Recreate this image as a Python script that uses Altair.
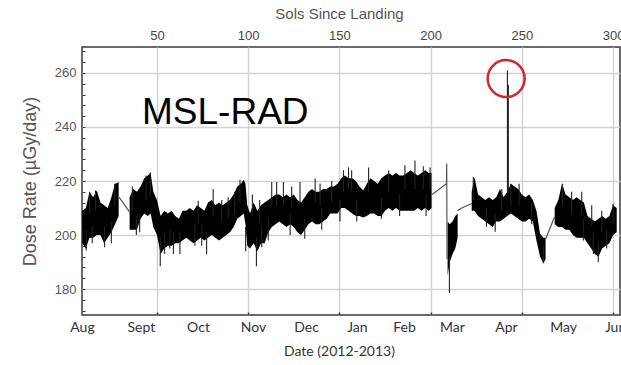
import altair as alt
import pandas as pd

# ---- dose-rate envelope, per continuous stretch of data (sol, low, high) ----
seg_a_sol = [9, 11, 13, 15, 17, 19, 21, 23, 25, 27, 29]
seg_a_lo = [197, 195, 199, 199, 200, 200, 197, 199, 201, 204, 207]
seg_a_hi = [209, 210, 216, 214, 216.5, 212, 211, 210, 214, 219, 219.5]

seg_b_sol = [35, 37, 39, 41, 43, 45, 46.5, 48, 50, 52, 54, 56, 58, 60, 62, 64, 66, 68,
             70, 72, 74, 76, 78, 80, 82, 84, 86, 88, 90, 92, 94, 96, 97.5, 98.5, 99.5,
             101, 103, 105, 107, 109, 111, 113, 115, 117, 119, 121, 123, 125, 127, 129,
             131, 133, 135, 137, 139, 141, 143, 145, 147, 149, 151, 153, 155, 157, 159,
             161, 163, 165, 167, 169, 171, 173, 175, 177, 179, 181, 183, 185, 187, 189,
             191, 193, 195, 197, 199, 200.5]
seg_b_lo = [202, 202, 202, 206, 208, 207, 208, 203, 200, 193, 195, 196, 196, 197, 197, 198,
            199, 198, 197, 198, 199, 198, 199, 200, 199, 198, 199, 200, 201, 203, 206, 207,
            208, 204, 196, 195, 197, 194, 197, 197, 201, 203, 204, 205, 204, 203, 204, 203,
            201, 200, 202, 204, 205, 204, 204, 205, 206, 208, 208, 208, 210, 210, 209, 208,
            207, 207, 206.5, 207, 208, 208, 207, 207, 209, 210, 209, 210, 209, 209, 209,
            209, 209, 210, 209, 210, 209, 210]
seg_b_hi = [214, 217, 216, 218, 221, 222, 223, 216, 213, 207, 209, 208, 209, 207, 206, 209,
            209, 210, 209, 211, 210, 209, 212, 213, 211, 212, 211, 212, 213, 215, 218, 219,
            220.5, 219, 211, 208, 212, 209, 211, 212, 213, 214, 215, 215, 214, 215, 214, 215,
            213, 212, 214, 216, 217, 216, 216, 217, 217, 218, 218, 219, 221, 222, 221, 221,
            220, 218, 216.5, 219, 221, 220, 219, 221, 222, 223, 222, 223, 222, 222, 223, 224,
            223, 222, 223, 224, 223, 223]

seg_c_sol = [209.3, 210.5, 212, 213.5, 214.8]
seg_c_lo = [185, 190, 193, 195, 199]
seg_c_hi = [205, 204, 205, 207, 208]

seg_d_sol = [222.5, 224, 226, 228, 230, 232, 234, 236, 238, 240, 242, 244, 246, 248, 250,
             252, 254, 256, 258, 260, 261.8, 263]
seg_d_lo = [209, 209, 207, 206, 205, 204, 203, 205, 205, 206, 207, 208, 207, 206, 205, 205,
            206, 205, 198, 192, 189.6, 191]
seg_d_hi = [216, 221.5, 215, 214, 213, 214, 213, 214, 217, 214, 216, 219, 218, 217, 215, 214,
            215, 213, 209, 200.5, 199, 199]

seg_e_sol = [268, 270, 272, 274, 276, 278, 280, 282, 284, 286, 288, 290, 292, 294, 296, 298,
             300, 302]
seg_e_lo = [204, 203, 203, 202, 202, 200, 199, 199, 199, 197, 195, 193, 192, 195, 196, 197,
            200, 201]
seg_e_hi = [210, 213, 219, 215, 214, 213, 214, 213, 212, 207, 206, 205, 206, 207, 206, 207,
            211, 210]

# ---- isolated readings that stick out of the band (sol, low, high) ----
spike_sol = [11.2, 13.1, 14.5, 16.3, 21.3, 25.0, 26.8, 36.5, 38.7, 40.5, 44.0, 46.3,
             51.8, 54.2, 57.0, 59.0, 62.6, 70.8, 72.6, 74.5, 77.2, 80.8, 85.5, 89.0,
             92.6, 95.5, 98.6, 102.3, 104.5, 106.3, 107.4, 111.0, 112.9, 115.6, 119.3,
             123.0, 123.8, 128.4, 131.0, 136.7, 139.4, 140.3, 145.8, 150.3, 152.2, 155.0,
             156.7, 159.5, 166.0, 173.0, 177.0, 183.0, 185.9, 191.4, 196.0, 197.5, 199.7,
             210.3, 223.4, 230.6, 235.4, 239.0, 242.1, 242.6, 244.0, 248.5, 255.4, 261.8,
             272.3, 277.3, 282.8, 283.7, 288.3, 289.2, 291.9, 293.8, 296.5, 300.0]
spike_lo = [194.3, 208, 197, 209, 195.5, 197, 211, 209, 200, 201, 213, 214,
            188.4, 193, 195, 193, 193, 196, 204, 196, 193, 207, 205, 206,
            208, 212, 194, 207, 188.4, 205, 195.5, 198, 211, 211, 211,
            200, 210, 211, 198.6, 212, 211, 202, 212, 205, 216, 217,
            216, 205, 216, 206, 216, 207, 217, 217, 217, 207, 217,
            178.5, 213, 203, 201.2, 209, 216, 216, 211, 211, 204, 189.6,
            211, 208, 208, 198, 203, 193, 190, 201, 195, 204]
spike_hi = [202, 216, 203, 216.5, 203, 205, 219, 218, 207, 208, 222, 223.2,
            199, 201, 202, 201, 201, 204, 212.7, 204, 201, 217, 213, 214,
            216, 220.5, 203, 215, 199, 213, 203, 206, 219.6, 219.6, 219.6,
            208, 218, 219.6, 206, 220.9, 219, 210, 220, 213, 224, 225,
            224, 213, 225, 214, 224, 215, 225.8, 227.6, 225.5, 215, 225,
            192, 221.5, 210, 208, 217, 260.9, 255.6, 219, 219, 212, 196,
            219, 216, 216, 206, 211, 201, 198, 209, 202, 211.6]

# ---- thin traces bridging the data gaps ----
gap_group = [1, 1, 2, 2, 2, 2, 3, 3, 3, 4, 4]
gap_sol = [29.2, 35.0, 200.8, 208.7, 208.8, 209.0, 214.8, 216.5, 222.5, 262.7, 267.9]
gap_val = [214, 208.5, 215, 219, 226.5, 191, 209, 209.8, 211.7, 198, 206.7]

# ---- axis labelling ----
sol_ticks = [50, 100, 150, 200, 250, 300]
dose_ticks = [180, 200, 220, 240, 260]
dose_minor = [172, 176, 180, 184, 188, 192, 196, 200, 204, 208, 212, 216, 220, 224, 228,
              232, 236, 240, 244, 248, 252, 256, 260, 264, 268]
month_names = ["Aug", "Sept", "Oct", "Nov", "Dec", "Jan", "Feb", "Mar", "Apr", "May", "Jun"]
month_sol = [8.9, 41.2, 72.5, 102.6, 131.7, 159.6, 185.4, 211.7, 241.3, 272.6, 301.1]

# ---- annotations ----
label_text = ["MSL-RAD"]
label_sol = [41.8]
label_val = [245]
ring_sol = [241.4]
ring_val = [257.9]

rows = []
for seg, (s, lo, hi) in enumerate([(seg_a_sol, seg_a_lo, seg_a_hi), (seg_b_sol, seg_b_lo, seg_b_hi),
                                   (seg_c_sol, seg_c_lo, seg_c_hi), (seg_d_sol, seg_d_lo, seg_d_hi),
                                   (seg_e_sol, seg_e_lo, seg_e_hi)]):
    for a, b, c in zip(s, lo, hi):
        rows.append({"seg": seg, "sol": a, "lo": b, "hi": c})
band_df = pd.DataFrame(rows)
spike_df = pd.DataFrame({"sol": spike_sol, "lo": spike_lo, "hi": spike_hi})
gap_df = pd.DataFrame({"grp": gap_group, "sol": gap_sol, "val": gap_val})
month_df = pd.DataFrame({"sol": month_sol, "name": month_names})
minor_df = pd.DataFrame({"val": dose_minor})
sol_df = pd.DataFrame({"sol": sol_ticks})
label_df = pd.DataFrame({"text": label_text, "sol": label_sol, "val": label_val})
ring_df = pd.DataFrame({"sol": ring_sol, "val": ring_val})

W, H = 538, 268
xs = alt.Scale(domain=[8.9, 303.8], nice=False, zero=False)
ys = alt.Scale(domain=[170.4, 269.6], nice=False, zero=False)

GRID = "#d2d2d2"
FRAME = "#3a3a3a"

top_axis = alt.Axis(
    orient="top", values=sol_ticks, title="Sols Since Landing", grid=True,
    gridColor=GRID, gridWidth=1.5, domain=False, ticks=False,
    labelFont="Liberation Sans", labelFontSize=13, labelColor="#444", labelPadding=5,
    titleFont="Liberation Sans", titleFontSize=15, titleFontWeight="normal",
    titleColor="#555", titlePadding=8, titleX=257, titleAlign="center",
)
left_axis = alt.Axis(
    orient="left", values=dose_ticks, title="Dose Rate (µGy/day)", grid=True,
    gridColor=GRID, gridWidth=1.5, domain=False, ticks=False,
    labelFont="Liberation Sans", labelFontSize=13, labelColor="#555", labelPadding=6,
    titleFont="Liberation Sans", titleFontSize=18, titleFontWeight="normal",
    titleColor="#555", titlePadding=15,
)
month_expr = "{0}[indexof({1}, datum.value)]".format(
    "[" + ",".join("'%s'" % m for m in month_names) + "]",
    "[" + ",".join(str(v) for v in month_sol) + "]",
)
bottom_axis = alt.Axis(
    orient="bottom", values=month_sol, labelExpr=month_expr, title="Date (2012-2013)",
    grid=False, domain=False, ticks=False, labelFlush=False,
    labelFont="Lato", labelFontSize=14, labelColor="#333", labelPadding=5,
    titleFont="Lato", titleFontSize=14, titleFontWeight="normal", titleColor="#333",
    titlePadding=10, titleX=257, titleAlign="center",
)
# small inward ticks along the left frame
inner_left_axis = alt.Axis(
    orient="right", offset=-W, values=dose_minor, labels=False, ticks=True, tickSize=3,
    tickColor=FRAME, tickWidth=1, domain=False, grid=False, title=None,
)
# small inward ticks along the bottom frame
inner_bottom_axis = alt.Axis(
    orient="top", offset=-H, values=sol_ticks, labels=False, ticks=True, tickSize=3,
    tickColor=FRAME, tickWidth=1.5, domain=False, grid=False, title=None,
)

band = alt.Chart(band_df).mark_area(color="black", opacity=1, strokeWidth=0).encode(
    x=alt.X("sol:Q", scale=xs, axis=top_axis),
    y=alt.Y("lo:Q", scale=ys, axis=left_axis),
    y2="hi:Q",
    detail="seg:N",
)

spikes = alt.Chart(spike_df).mark_rule(color="#222", strokeWidth=1.1).encode(
    x=alt.X("sol:Q", scale=xs, axis=None),
    y=alt.Y("lo:Q", scale=ys, axis=None),
    y2="hi:Q",
)

gaps = alt.Chart(gap_df).mark_line(color="#555", strokeWidth=1.2).encode(
    x=alt.X("sol:Q", scale=xs, axis=None),
    y=alt.Y("val:Q", scale=ys, axis=None),
    detail="grp:N",
    order="sol:Q",
)

months = alt.Chart(month_df).mark_point(opacity=0).encode(
    x=alt.X("sol:Q", scale=xs, axis=bottom_axis),
)

minor_y = alt.Chart(minor_df).mark_point(opacity=0).encode(
    y=alt.Y("val:Q", scale=ys, axis=inner_left_axis),
)

minor_x = alt.Chart(sol_df).mark_point(opacity=0).encode(
    x=alt.X("sol:Q", scale=xs, axis=inner_bottom_axis),
)

label = alt.Chart(label_df).mark_text(
    align="left", baseline="middle", fontSize=37, font="Liberation Sans", color="black"
).encode(
    x=alt.X("sol:Q", scale=xs, axis=None),
    y=alt.Y("val:Q", scale=ys, axis=None),
    text="text:N",
)

ring = alt.Chart(ring_df).mark_point(
    shape="circle", filled=False, color="#d7262b", strokeWidth=2.5, size=1369, opacity=1
).encode(
    x=alt.X("sol:Q", scale=xs, axis=None),
    y=alt.Y("val:Q", scale=ys, axis=None),
)

chart = (
    alt.layer(band, spikes, gaps, months, minor_y, minor_x, label, ring)
    .resolve_axis(x="independent", y="independent")
    .properties(
        width=W, height=H,
        autosize=alt.AutoSizeParams(type="none"),
        padding={"left": 82, "top": 47, "right": 1, "bottom": 50},
        background="white",
    )
    .configure_view(stroke=FRAME, strokeWidth=1.5)
)

chart.save("out.html", embed_options={"renderer": "svg", "actions": False})
